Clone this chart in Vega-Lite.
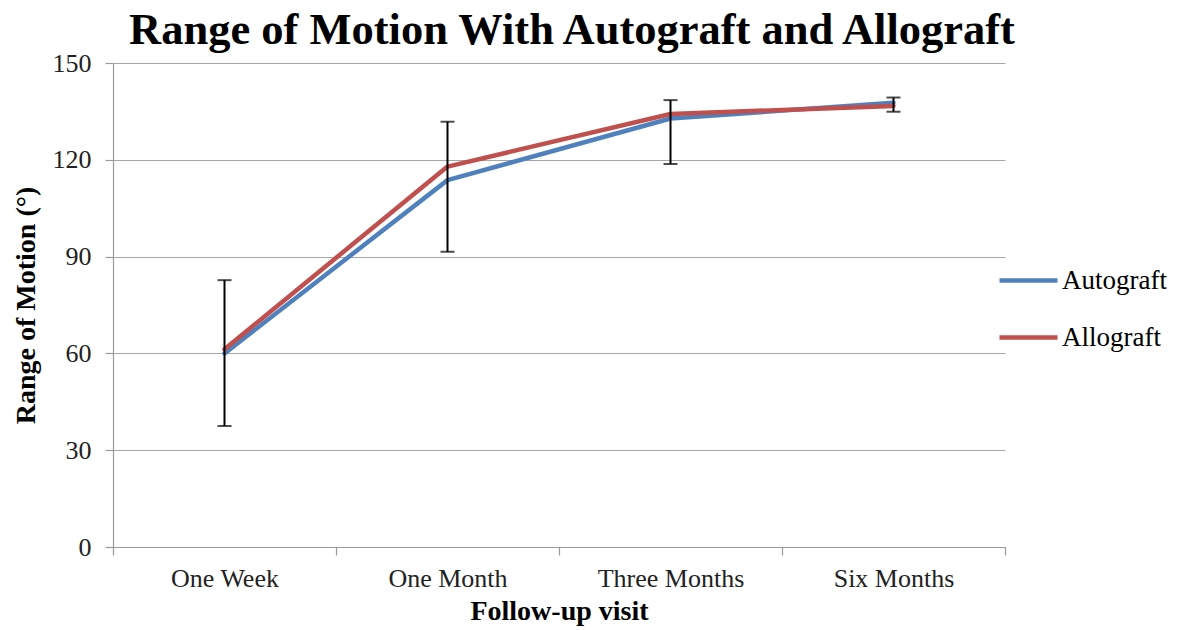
{
  "$schema": "https://vega.github.io/schema/vega-lite/v6.json",
  "autosize": {"type": "none"},
  "padding": {"left": 113, "top": 63, "right": 178, "bottom": 83},
  "width": 892,
  "height": 484,
  "background": "white",
  "title": {
    "text": "Range of Motion With Autograft and Allograft",
    "font": "Liberation Serif",
    "fontSize": 44.5,
    "fontWeight": "bold",
    "color": "black",
    "anchor": "middle",
    "dx": 13,
    "offset": -3
  },
  "config": {
    "view": {"stroke": null},
    "font": "Liberation Serif"
  },
  "datasets": {
    "means": [
      {"visit": "One Week", "series": "Autograft", "value": 60.0},
      {"visit": "One Month", "series": "Autograft", "value": 113.7},
      {"visit": "Three Months", "series": "Autograft", "value": 132.8},
      {"visit": "Six Months", "series": "Autograft", "value": 137.7},
      {"visit": "One Week", "series": "Allograft", "value": 61.3},
      {"visit": "One Month", "series": "Allograft", "value": 117.9},
      {"visit": "Three Months", "series": "Allograft", "value": 134.2},
      {"visit": "Six Months", "series": "Allograft", "value": 136.7}
    ],
    "errors": [
      {"visit": "One Week", "low": 37.5, "high": 82.7},
      {"visit": "One Month", "low": 91.5, "high": 131.8},
      {"visit": "Three Months", "low": 118.7, "high": 138.5},
      {"visit": "Six Months", "low": 134.9, "high": 139.3}
    ]
  },
  "layer": [
    {
      "data": {"name": "means"},
      "mark": {"type": "line", "strokeWidth": 4.5, "strokeCap": "round", "strokeJoin": "round"},
      "encoding": {
        "x": {
          "field": "visit", "type": "nominal", "bandPosition": 0.5,
          "sort": ["One Week", "One Month", "Three Months", "Six Months"],
          "scale": {"type": "band", "paddingInner": 0, "paddingOuter": 0},
          "axis": {
            "title": "Follow-up visit",
            "titleFont": "Liberation Serif", "titleFontSize": 28, "titleFontWeight": "bold", "titleColor": "black",
            "titlePadding": 6,
            "labelFont": "Liberation Serif", "labelFontSize": 26, "labelColor": "#222", "labelAngle": 0, "labelPadding": 10,
            "domainColor": "#9a9a9a", "domainWidth": 1.2,
            "tickColor": "#9a9a9a", "tickSize": 8, "tickBand": "extent", "tickWidth": 1.2,
            "grid": false
          }
        },
        "y": {
          "field": "value", "type": "quantitative",
          "scale": {"domain": [0, 150], "nice": false},
          "axis": {
            "title": "Range of Motion (°)",
            "values": [0, 30, 60, 90, 120, 150],
            "titleFont": "Liberation Serif", "titleFontSize": 28, "titleFontWeight": "bold", "titleColor": "black",
            "titlePadding": 12,
            "labelFont": "Liberation Serif", "labelFontSize": 26, "labelColor": "#222", "labelPadding": 14,
            "domainColor": "#9a9a9a", "domainWidth": 1.2,
            "tickColor": "#9a9a9a", "tickSize": 8, "tickWidth": 1.2,
            "grid": true, "gridColor": "#a6a6a6", "gridWidth": 1.2
          }
        },
        "color": {
          "field": "series", "type": "nominal",
          "scale": {"domain": ["Autograft", "Allograft"], "range": ["#4F81BD", "#C0504D"]},
          "legend": {
            "title": null,
            "orient": "none",
            "legendX": 884,
            "legendY": 186,
            "symbolType": "stroke",
            "symbolStrokeWidth": 4.5,
            "symbolSize": 3364,
            "labelFont": "Liberation Serif", "labelFontSize": 27, "labelColor": "black",
            "rowPadding": 12,
            "labelOffset": 2
          }
        },
        "order": {"field": "series"}
      }
    },
    {
      "data": {"name": "errors"},
      "mark": {"type": "rule", "color": "black", "strokeWidth": 2},
      "encoding": {
        "x": {"field": "visit", "type": "nominal", "bandPosition": 0.5, "sort": ["One Week", "One Month", "Three Months", "Six Months"]},
        "y": {"field": "low", "type": "quantitative"},
        "y2": {"field": "high"}
      }
    },
    {
      "data": {"name": "errors"},
      "mark": {"type": "tick", "color": "black", "thickness": 2, "size": 14, "orient": "horizontal"},
      "encoding": {
        "x": {"field": "visit", "type": "nominal", "bandPosition": 0.5, "sort": ["One Week", "One Month", "Three Months", "Six Months"]},
        "y": {"field": "low", "type": "quantitative"}
      }
    },
    {
      "data": {"name": "errors"},
      "mark": {"type": "tick", "color": "black", "thickness": 2, "size": 14, "orient": "horizontal"},
      "encoding": {
        "x": {"field": "visit", "type": "nominal", "bandPosition": 0.5, "sort": ["One Week", "One Month", "Three Months", "Six Months"]},
        "y": {"field": "high", "type": "quantitative"}
      }
    }
  ]
}
